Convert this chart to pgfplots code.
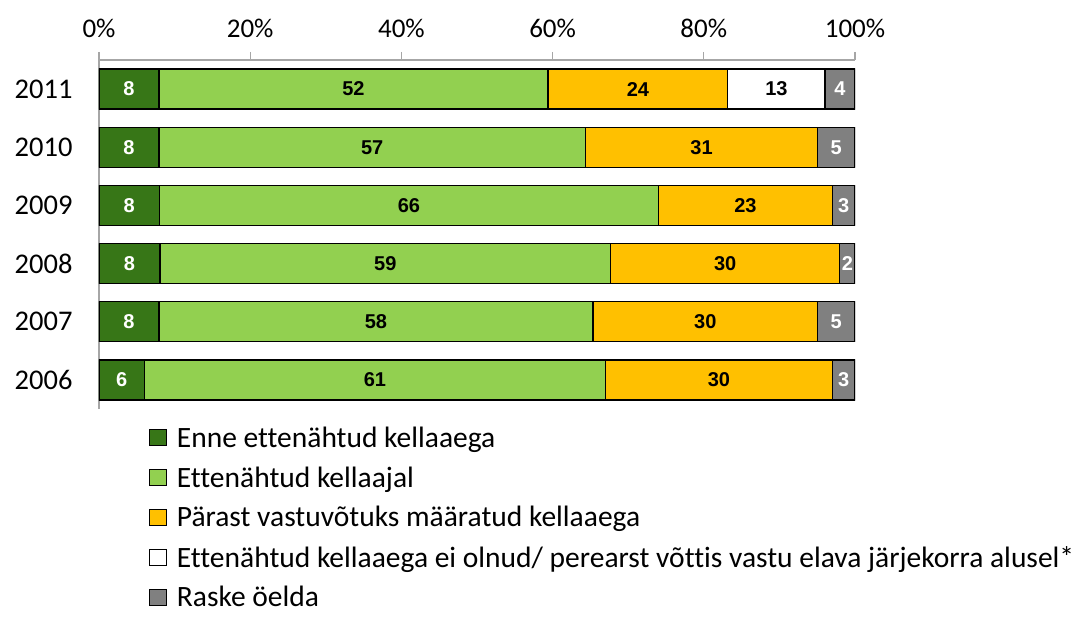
\documentclass[border=0pt]{standalone}
\usepackage{pgfplots}
\pgfplotsset{compat=1.18}
\usepackage{pgfplotstable}
\usepackage{fontspec}
\setmainfont{Carlito}[Ligatures=NoCommon]
\newfontfamily\lab{Liberation Sans}
\definecolor{dgreen}{RGB}{55,118,23}
\definecolor{lgreen}{RGB}{146,208,80}
\definecolor{orng}{RGB}{255,192,0}
\definecolor{gry}{RGB}{128,128,128}
\definecolor{axgray}{RGB}{166,166,166}

% y: 0=2006 ... 5=2011
\pgfplotstableread{
y a b c d e
0 6 61 30 0 3
1 8 58 30 0 5
2 8 59 30 0 2
3 8 66 23 0 3
4 8 57 31 0 5
5 8 52 24 13 4
}\data

\newcommand{\tot}{(\thisrow{a}+\thisrow{b}+\thisrow{c}+\thisrow{d}+\thisrow{e})}

\pgfplotsset{common/.style={scale only axis, width=756pt, height=349pt,
  xmin=0, xmax=100, ymin=-0.5, ymax=5.5, at={(99pt,-60pt)}, anchor=north west}}

\begin{document}
\begin{tikzpicture}
\useasboundingbox (0,0) rectangle (1077pt,-617pt);
\begin{axis}[common, xbar stacked, bar width=40pt,
  axis x line*=top, axis y line*=left,
  axis line style={axgray, line width=1.2pt},
  xtick={0,20,...,100}, xticklabels={0\%,20\%,40\%,60\%,80\%,100\%},
  ytick={0,1,2,3,4,5}, yticklabels={2006,2007,2008,2009,2010,2011},
  tick align=outside, major tick length=8pt,
  xtick style={axgray, line width=1.2pt}, ytick style={draw=none},
  xticklabel style={font=\fontsize{27}{32}\selectfont, yshift=11pt},
  yticklabel style={font=\fontsize{28.5}{33}\selectfont, xshift=-15pt},
  legend style={at={(axis description cs:0.066,-0.045)}, anchor=north west, draw=none,
    font=\fontsize{29.5}{34}\selectfont, row sep=13.8pt, inner sep=0pt,
    /tikz/every odd column/.append style={column sep=8pt}},
  legend cell align=left,
  legend image code/.code={\draw[#1, draw=black, line width=0.8pt] (0pt,-8pt) rectangle (17pt,8pt);},
  every axis plot/.append style={draw=black, line width=1.3pt},
  ]
\addplot[fill=dgreen] table[x expr={\thisrow{a}*100/\tot}, y=y]{\data};
\addplot[fill=lgreen] table[x expr={\thisrow{b}*100/\tot}, y=y]{\data};
\addplot[fill=orng] table[x expr={\thisrow{c}*100/\tot}, y=y]{\data};
\addplot[fill=white] table[x expr={\thisrow{d}*100/\tot}, y=y]{\data};
\addplot[fill=gry] table[x expr={\thisrow{e}*100/\tot}, y=y]{\data};
\legend{Enne ettenähtud kellaaega, Ettenähtud kellaajal, Pärast vastuvõtuks määratud kellaaega, Ettenähtud kellaaega ei olnud/ perearst võttis vastu elava järjekorra alusel*, Raske öelda}
\end{axis}
\begin{axis}[common, hide axis,
  /pgf/number format/assume math mode=true,
  every node near coord/.style={anchor=center, font=\lab\bfseries\fontsize{20}{24}\selectfont}]
\addplot[only marks, mark=*, mark size=0pt, mark options={draw=none,fill=none}, nodes near coords, point meta=\thisrow{a},
  nodes near coords style={white}]
  table[x expr={(\thisrow{a}/2)*100/\tot}, y=y]{\data};
\addplot[only marks, mark=*, mark size=0pt, mark options={draw=none,fill=none}, nodes near coords, point meta=\thisrow{b},
  nodes near coords style={black}]
  table[x expr={(\thisrow{a}+\thisrow{b}/2)*100/\tot}, y=y]{\data};
\addplot[only marks, mark=*, mark size=0pt, mark options={draw=none,fill=none}, nodes near coords, point meta=\thisrow{c},
  nodes near coords style={black}]
  table[x expr={(\thisrow{a}+\thisrow{b}+\thisrow{c}/2)*100/\tot}, y=y]{\data};
\addplot[only marks, mark=*, mark size=0pt, mark options={draw=none,fill=none}, nodes near coords, point meta=\thisrow{d},
  nodes near coords style={black}, restrict x to domain=0:100]
  table[x expr={\thisrow{d}>0 ? (\thisrow{a}+\thisrow{b}+\thisrow{c}+\thisrow{d}/2)*100/\tot : -100}, y=y]{\data};
\addplot[only marks, mark=*, mark size=0pt, mark options={draw=none,fill=none}, nodes near coords, point meta=\thisrow{e},
  nodes near coords style={white}]
  table[x expr={(\thisrow{a}+\thisrow{b}+\thisrow{c}+\thisrow{d}+\thisrow{e}/2)*100/\tot}, y=y]{\data};
\end{axis}
\end{tikzpicture}
\end{document}
